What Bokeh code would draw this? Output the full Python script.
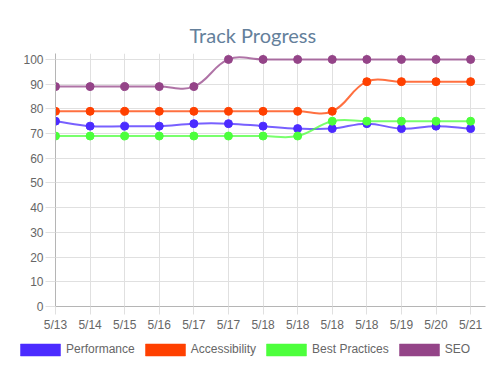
import numpy as np
from bokeh.plotting import figure
from bokeh.layouts import column
from bokeh.models import Range1d, FixedTicker, Legend, LegendItem, ColumnDataSource
from bokeh.embed import file_html
from bokeh.resources import INLINE

labels = ["5/13", "5/14", "5/15", "5/16", "5/17", "5/17", "5/18", "5/18",
          "5/18", "5/18", "5/19", "5/20", "5/21"]
performance = [75, 73, 73, 73, 74, 74, 73, 72, 72, 74, 72, 73, 72]
accessibility = [79, 79, 79, 79, 79, 79, 79, 79, 79, 91, 91, 91, 91]
best_practices = [69, 69, 69, 69, 69, 69, 69, 69, 75, 75, 75, 75, 75]
seo = [89, 89, 89, 89, 89, 100, 100, 100, 100, 100, 100, 100, 100]
series_names = ["Performance", "Accessibility", "Best Practices", "SEO"]
colors = ["#4b2bff", "#ff4000", "#4cff3c", "#944488"]
y_ticks = list(range(0, 101, 10))

FONT = "Liberation Sans"
TENSION = 0.4
SX, SY = 34.6, 2.47  # approx pixel per data unit for spline distances


def spline_segments(xs, ys):
    n = len(xs)
    px = [x * SX for x in xs]
    py = [y * SY for y in ys]
    cps = []
    for i in range(n):
        pi = max(i - 1, 0)
        ni = min(i + 1, n - 1)
        d01 = np.hypot(px[i] - px[pi], py[i] - py[pi])
        d12 = np.hypot(px[ni] - px[i], py[ni] - py[i])
        tot = d01 + d12
        s01 = d01 / tot if tot else 0
        s12 = d12 / tot if tot else 0
        fa, fb = TENSION * s01, TENSION * s12
        dx, dy = px[ni] - px[pi], py[ni] - py[pi]
        prev = ((px[i] - fa * dx) / SX, (py[i] - fa * dy) / SY)
        nxt = ((px[i] + fb * dx) / SX, (py[i] + fb * dy) / SY)
        cps.append((prev, nxt))
    seg = dict(x0=[], y0=[], x1=[], y1=[], cx0=[], cy0=[], cx1=[], cy1=[])
    for i in range(n - 1):
        seg["x0"].append(xs[i]); seg["y0"].append(ys[i])
        seg["x1"].append(xs[i + 1]); seg["y1"].append(ys[i + 1])
        seg["cx0"].append(cps[i][1][0]); seg["cy0"].append(cps[i][1][1])
        seg["cx1"].append(cps[i + 1][0][0]); seg["cy1"].append(cps[i + 1][0][1])
    return seg


p = figure(width=502, height=334, output_backend="svg", toolbar_location=None,
           x_range=Range1d(0, 12.43), y_range=Range1d(0, 102.4),
           min_border_left=55, min_border_right=17, min_border_top=53,
           min_border_bottom=28, title="Track Progress")
p.frame_align = False
p.outline_line_color = None
p.background_fill_color = "white"
p.border_fill_color = "white"

p.title.align = "left"
p.title.offset = 134
p.title.text_font = "Lato"
p.title.text_font_style = "normal"
p.title.text_font_size = "20px"
p.title.text_color = "#64809b"
p.title.standoff = 14

xs = list(range(len(labels)))
p.xaxis.ticker = FixedTicker(ticks=xs)
p.xaxis.major_label_overrides = {i: l for i, l in enumerate(labels)}
p.yaxis.ticker = FixedTicker(ticks=y_ticks)
for ax in (p.xaxis, p.yaxis):
    ax.major_label_text_font = FONT
    ax.major_label_text_font_size = "12px"
    ax.major_label_text_color = "#666666"
    ax.axis_line_color = "#b5b5b5"
    ax.major_tick_line_color = "#e0e0e0"
    ax.minor_tick_line_color = None
    ax.major_tick_in = 0
p.xaxis.major_tick_out = 8
p.xaxis.major_label_standoff = 3
p.yaxis.major_tick_out = 10
p.yaxis.major_label_standoff = 2
p.xgrid.ticker = FixedTicker(ticks=xs)
p.ygrid.ticker = FixedTicker(ticks=y_ticks)
p.grid.grid_line_color = "#e0e0e0"

# legend figure
lg = figure(width=502, height=40, output_backend="svg", toolbar_location=None,
            x_range=Range1d(0, 1), y_range=Range1d(0, 1),
            x_axis_location=None, y_axis_location=None,
            min_border_left=0, min_border_right=0, min_border_top=0,
            min_border_bottom=0)
lg.frame_align = False
lg.outline_line_color = None
lg.xgrid.visible = False
lg.ygrid.visible = False

all_series = [performance, accessibility, best_practices, seo]
items = []
for name, vals, c in zip(series_names, all_series, colors):
    seg = spline_segments(xs, vals)
    p.bezier(x0="x0", y0="y0", x1="x1", y1="y1", cx0="cx0", cy0="cy0",
             cx1="cx1", cy1="cy1", source=ColumnDataSource(seg),
             line_color=c, line_width=2, line_alpha=0.75)
    p.scatter(xs, vals, size=8, fill_color=c, line_color=c)
    r = lg.quad(left=[5], right=[6], top=[6], bottom=[5], fill_color=c,
                line_color=c, line_alpha=0.5, line_width=1)
    items.append(LegendItem(label=name, renderers=[r]))

legend = Legend(items=items, orientation="horizontal", location=(15, 17.5),
                glyph_width=50, glyph_height=15, label_standoff=1, spacing=5,
                padding=0, margin=0, border_line_color=None,
                background_fill_alpha=0, label_text_font=FONT,
                label_text_font_size="12px", label_text_color="#666666")
lg.add_layout(legend, "center")

layout = column(p, lg, spacing=0)
open("out.html", "w").write(file_html(layout, INLINE))
